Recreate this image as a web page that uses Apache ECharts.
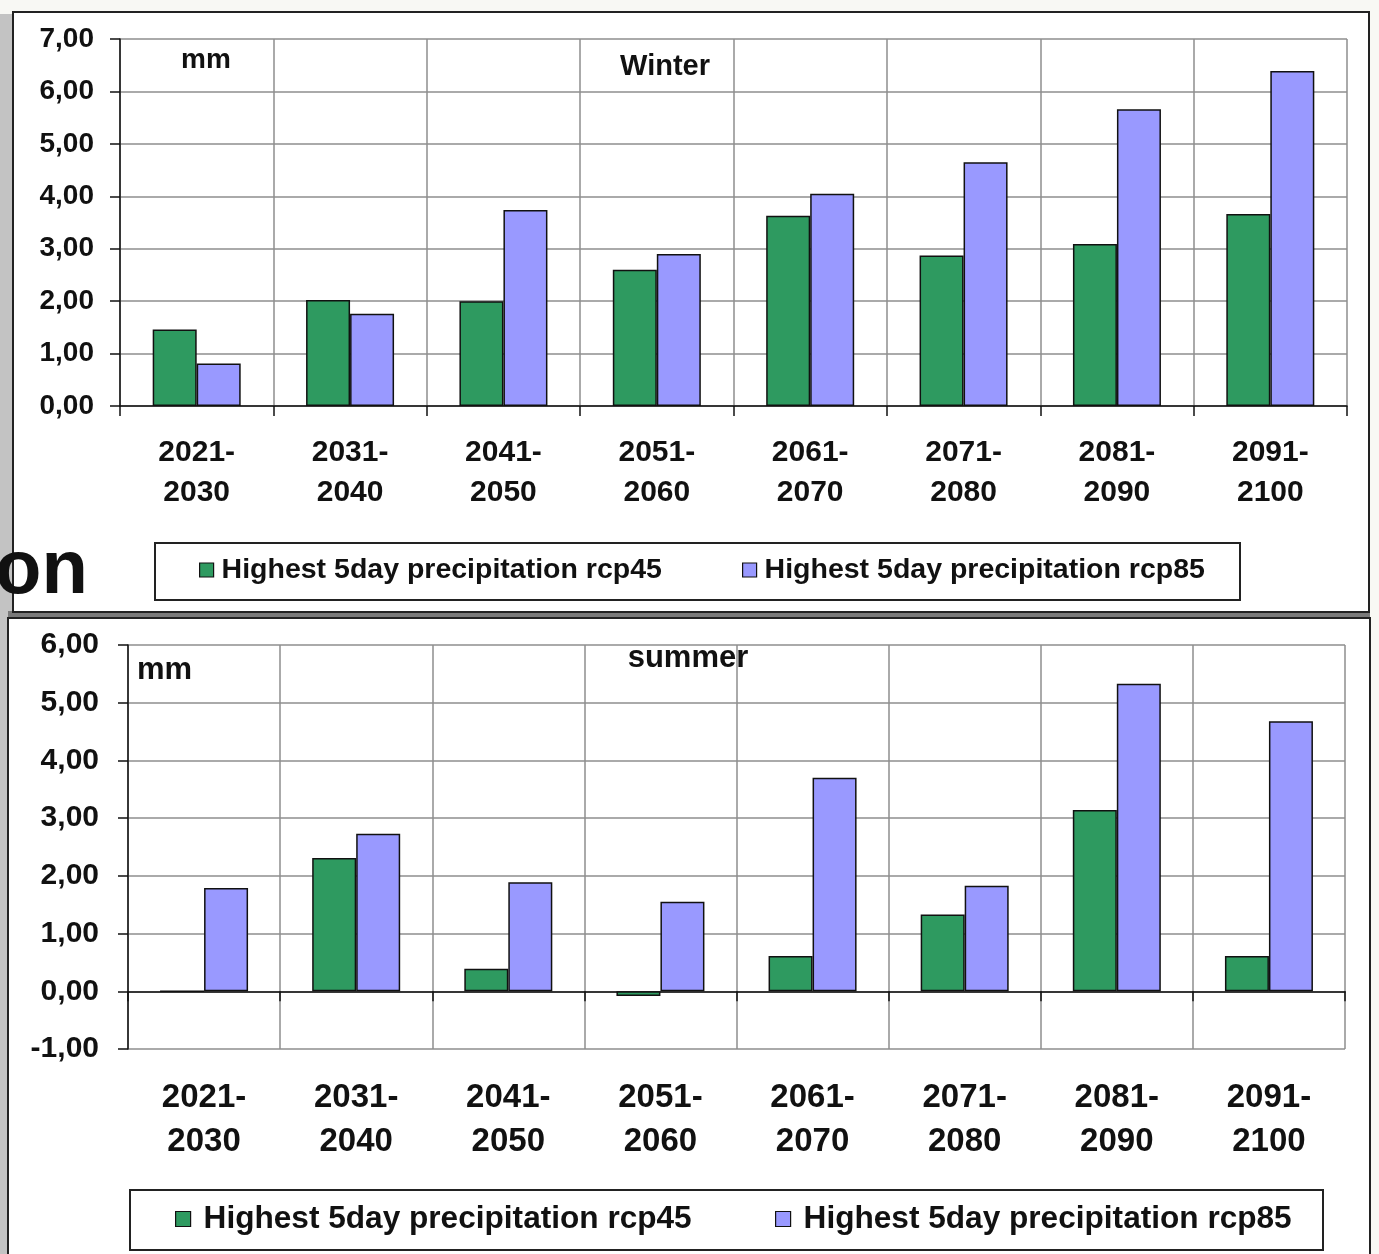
<!DOCTYPE html>
<html>
<head>
<meta charset="utf-8">
<script src="https://cdn.jsdelivr.net/npm/echarts@6/dist/echarts.min.js"></script>
<style>
  html, body { margin: 0; padding: 0; background: #f8f8f4; }
  #chart { width: 1379px; height: 1254px; }
</style>
</head>
<body>
<div id="chart"></div>
<script>
// Decades on the category axis
const periods = ['2021-2030', '2031-2040', '2041-2050', '2051-2060',
                 '2061-2070', '2071-2080', '2081-2090', '2091-2100'];

// Change of the highest 5-day precipitation (mm)
const winterRcp45 = [1.46, 2.02, 2.00, 2.60, 3.63, 2.87, 3.09, 3.66];
const winterRcp85 = [0.81, 1.76, 3.74, 2.90, 4.05, 4.65, 5.66, 6.39];
const summerRcp45 = [0.00, 2.31, 0.39, -0.08, 0.61, 1.33, 3.14, 0.61];
const summerRcp85 = [1.79, 2.73, 1.89, 1.55, 3.70, 1.83, 5.33, 4.68];

// Value axis ticks
const winterTicks = [0, 1, 2, 3, 4, 5, 6, 7];
const summerTicks = [-1, 0, 1, 2, 3, 4, 5, 6];

const seriesNames = ['Highest 5day precipitation rcp45', 'Highest 5day precipitation rcp85'];
const seasonTitles = ['Winter', 'summer'];
const unitLabel = 'mm';

const FONT = "'Liberation Sans', Arial, sans-serif";
const GREEN = '#2e9a60';
const PURPLE = '#9999ff';
const GRID_GREY = '#8e8e8e';

const commaFmt = v => v.toFixed(2).replace('.', ',');
const periodFmt = v => v.replace('-', '-\n');

function valueAxis(idx, ticks, fontSize, margin) {
  return {
    type: 'value', gridIndex: idx,
    min: ticks[0], max: ticks[ticks.length - 1], interval: ticks[1] - ticks[0],
    axisLine: { show: true, lineStyle: { color: '#111', width: 1.5 } },
    axisTick: { show: true, length: 10, lineStyle: { color: '#111', width: 1.5 } },
    splitLine: { show: true, lineStyle: { color: GRID_GREY, width: 1.5 } },
    axisLabel: { formatter: commaFmt, fontFamily: FONT, fontWeight: 'bold',
                 fontSize: fontSize, color: '#111', margin: margin }
  };
}

function categoryAxis(idx, fontSize, lineHeight, margin) {
  return {
    type: 'category', gridIndex: idx, data: periods,
    axisLine: { show: true, onZero: true, lineStyle: { color: '#111', width: 1.5 } },
    axisTick: { show: true, interval: 0, length: 10, lineStyle: { color: '#111', width: 1.5 } },
    splitLine: { show: true, interval: 0, lineStyle: { color: GRID_GREY, width: 1.5 } },
    axisLabel: { interval: 0, formatter: periodFmt, fontFamily: FONT, fontWeight: 'bold',
                 fontSize: fontSize, lineHeight: lineHeight, color: '#111', margin: margin }
  };
}

function bars(idx, name, data, color) {
  return {
    type: 'bar', name: name, xAxisIndex: idx, yAxisIndex: idx, data: data,
    barWidth: 44, barGap: '0%',
    itemStyle: { color: color, borderColor: '#111', borderWidth: 1.5 },
    emphasis: { disabled: true }
  };
}

function legendItem(name, left, top, fontSize, size, gap) {
  return {
    data: [name], left: left, top: top, orient: 'horizontal',
    padding: 0, itemWidth: size, itemHeight: size, icon: 'rect',
    itemStyle: { borderColor: '#111', borderWidth: 1.2 },
    selectedMode: false,
    textStyle: { fontFamily: FONT, fontWeight: 'bold', fontSize: fontSize,
                 lineHeight: 30, color: '#111', padding: [0, 0, 0, gap] }
  };
}

function txt(text, x, y, fontSize, align) {
  return {
    type: 'text', x: x, y: y, z: 50,
    style: { text: text, fontFamily: FONT, fontWeight: 'bold', fontSize: fontSize,
             fill: '#111', align: align || 'center', verticalAlign: 'middle' }
  };
}

const chart = echarts.init(document.getElementById('chart'), null, { renderer: 'canvas' });

chart.setOption({
  backgroundColor: '#f8f8f4',
  animation: false,
  grid: [
    { left: 120, right: 32, top: 39, height: 367 },
    { left: 128, right: 34, top: 645, height: 404 }
  ],
  xAxis: [
    categoryAxis(0, 30, 40, 27),
    categoryAxis(1, 33, 44, 27)
  ],
  yAxis: [
    valueAxis(0, winterTicks, 28, 26),
    valueAxis(1, summerTicks, 30, 29)
  ],
  legend: [
    legendItem(seriesNames[0], 199, 555, 28.5, 14, 3),
    legendItem(seriesNames[1], 742, 555, 28.5, 14, 3),
    legendItem(seriesNames[0], 175, 1203, 31.6, 15, 8),
    legendItem(seriesNames[1], 775, 1203, 31.6, 15, 8)
  ],
  series: [
    bars(0, seriesNames[0], winterRcp45, GREEN),
    bars(0, seriesNames[1], winterRcp85, PURPLE),
    bars(1, seriesNames[0], summerRcp45, GREEN),
    bars(1, seriesNames[1], summerRcp85, PURPLE)
  ],
  graphic: [
    // shaded margin on the left edge
    { type: 'rect', z: -30, shape: { x: 0, y: 14, width: 14, height: 1240 },
      style: { fill: '#c3c3c3' } },
    // dark band between the two panels
    { type: 'rect', z: -30, shape: { x: 8, y: 611, width: 1362, height: 8 },
      style: { fill: '#7a7a7a' } },
    // panel frames
    { type: 'rect', z: -20, shape: { x: 13, y: 12, width: 1356, height: 600 },
      style: { fill: '#ffffff', stroke: '#222', lineWidth: 2 } },
    { type: 'rect', z: -20, shape: { x: 8, y: 618, width: 1362, height: 645 },
      style: { fill: '#ffffff', stroke: '#222', lineWidth: 2 } },
    // legend boxes
    { type: 'rect', z: -5, shape: { x: 155, y: 543, width: 1085, height: 57 },
      style: { fill: 'none', stroke: '#222', lineWidth: 2 } },
    { type: 'rect', z: -5, shape: { x: 130, y: 1190, width: 1193, height: 60 },
      style: { fill: 'none', stroke: '#222', lineWidth: 2 } },
    // panel titles and units
    txt(seasonTitles[0], 665, 67, 29),
    txt(seasonTitles[1], 688, 658, 31),
    txt(unitLabel, 206, 60, 28),
    txt(unitLabel, 137, 670, 31, 'left'),
    // tail of a heading running in from the left
    txt('on', -5, 572, 76, 'left')
  ]
});
</script>
</body>
</html>
